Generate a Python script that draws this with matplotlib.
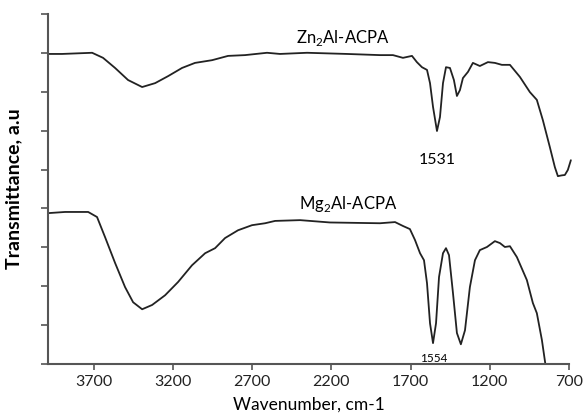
import numpy as np
import matplotlib.pyplot as plt

plt.rcParams['font.family'] = ['Lato', 'DejaVu Sans']
plt.rcParams['mathtext.fontset'] = 'custom'
plt.rcParams['mathtext.rm'] = 'Lato'

# Zn2Al-ACPA spectrum (wavenumber, transmittance in a.u.)
zn_wn = [3990, 3902, 3712, 3643, 3567, 3485, 3396, 3314, 3232, 3144, 3062, 2954,
         2853, 2746, 2607, 2525, 2354, 2102, 1893, 1811, 1748, 1691, 1660, 1628,
         1596, 1577, 1558, 1533, 1514, 1495, 1476, 1451, 1426, 1407, 1388, 1369,
         1337, 1306, 1262, 1211, 1167, 1123, 1072, 1009, 946, 902, 864, 820,
         788, 769, 745, 725, 706, 687]
zn_t = [7.97, 7.97, 8.0, 7.87, 7.61, 7.30, 7.12, 7.22, 7.40, 7.61, 7.74, 7.81,
        7.92, 7.94, 8.0, 7.97, 8.0, 7.97, 7.94, 7.94, 7.87, 7.92, 7.76, 7.63,
        7.56, 7.22, 6.61, 5.99, 6.35, 7.22, 7.63, 7.61, 7.30, 6.89, 7.04, 7.35,
        7.51, 7.74, 7.66, 7.76, 7.74, 7.69, 7.69, 7.38, 6.99, 6.79, 6.27, 5.58,
        5.06, 4.83, 4.85, 4.86, 4.99, 5.24]

# Mg2Al-ACPA spectrum
mg_wn = [3990, 3883, 3737, 3681, 3630, 3567, 3504, 3453, 3396, 3333, 3251, 3169,
         3081, 2998, 2935, 2872, 2790, 2702, 2619, 2556, 2398, 2209, 1893, 1798,
         1748, 1704, 1672, 1640, 1615, 1596, 1577, 1558, 1539, 1520, 1495, 1476,
         1457, 1432, 1407, 1382, 1356, 1325, 1293, 1262, 1217, 1167, 1135, 1104,
         1072, 1028, 965, 927, 902, 870, 848]
mg_t = [3.88, 3.91, 3.91, 3.78, 3.26, 2.60, 1.98, 1.59, 1.41, 1.52, 1.77, 2.11,
        2.54, 2.85, 2.98, 3.24, 3.44, 3.57, 3.62, 3.68, 3.70, 3.64, 3.62, 3.65,
        3.55, 3.47, 3.19, 2.85, 2.67, 2.08, 1.05, 0.54, 1.05, 2.24, 2.85, 2.98,
        2.80, 1.83, 0.80, 0.51, 0.87, 1.98, 2.67, 2.93, 3.01, 3.16, 3.11, 3.01,
        3.03, 2.75, 2.16, 1.57, 1.31, 0.62, 0.0]

x_ticks = [3700, 3200, 2700, 2200, 1700, 1200, 700]

fig = plt.figure(figsize=(5.87, 4.20), dpi=100)
ax = fig.add_axes([0.082, 0.133, 0.887, 0.834])

for wn, t in [(zn_wn, zn_t), (mg_wn, mg_t)]:
    ax.plot(wn, t, color='#222222', lw=1.3, clip_on=False,
            solid_joinstyle='round', solid_capstyle='round')

ax.set_xlim(3990, 700)
ax.set_ylim(0, 9)
ax.set_xticks(x_ticks)
ax.set_yticks(range(10))
ax.set_yticklabels([])
ax.tick_params(axis='x', labelsize=11.5, length=4, width=1.2, pad=4,
               color='#555555', labelcolor='#222222')
ax.tick_params(axis='y', length=5, width=1.2, color='#555555')

for side in ['top', 'right']:
    ax.spines[side].set_visible(False)
for side in ['left', 'bottom']:
    ax.spines[side].set_color('#555555')
    ax.spines[side].set_linewidth(1.5)

ax.text(2127, 8.25, 'Zn$_2$Al-ACPA', fontsize=12, ha='center')
ax.text(2095, 3.98, 'Mg$_2$Al-ACPA', fontsize=12, ha='center')
ax.text(1531, 5.15, '1531', fontsize=11.5, ha='center')
ax.text(1554, 0.05, '1554', fontsize=8.5, ha='center')

ax.set_xlabel('Wavenumber, cm-1', fontsize=12.5, labelpad=5)
ax.set_ylabel('Transmittance, a.u', fontsize=14, fontweight='bold', labelpad=10)

fig.savefig('out.png', dpi=100)
